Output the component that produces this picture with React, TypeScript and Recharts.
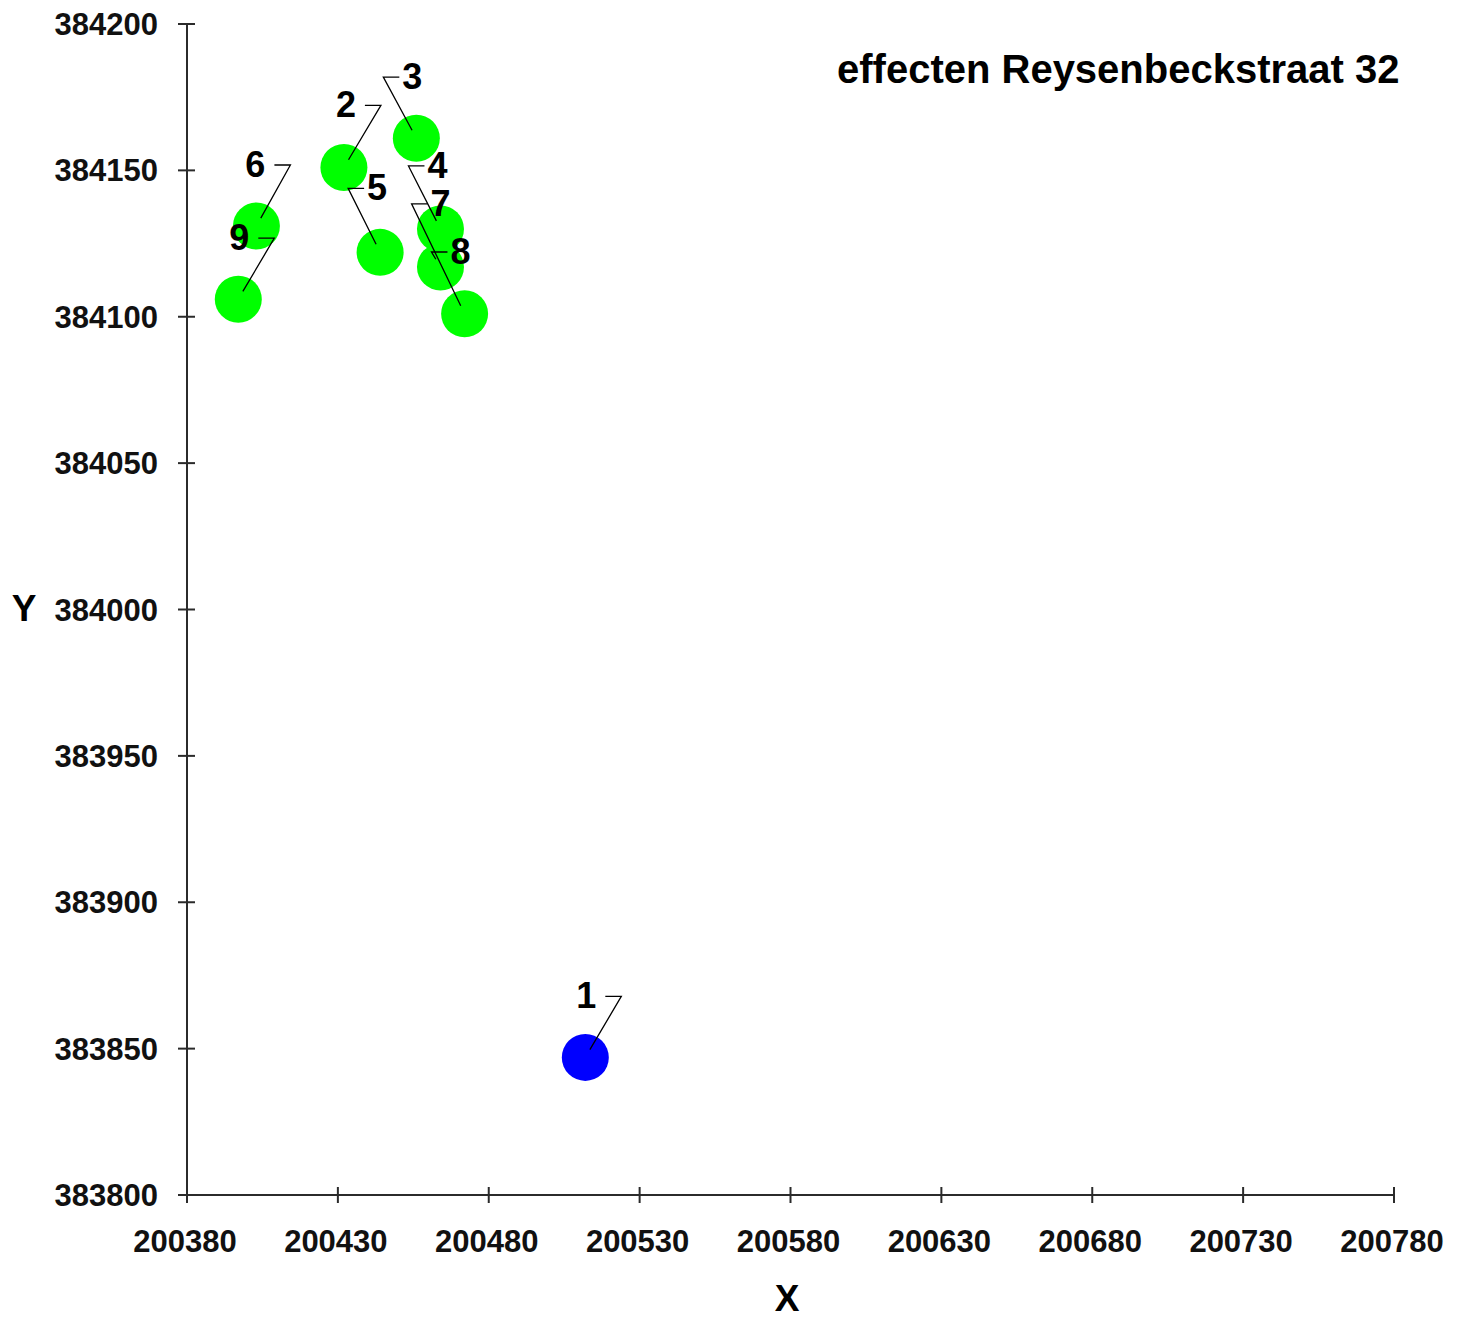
import React from 'react';
import { ScatterChart, Scatter, XAxis, YAxis } from 'recharts';

// receptor points (RD coordinates)
const pointIds = [1, 2, 3, 4, 5, 6, 7, 8, 9];
const xCoords = [200512, 200432, 200456, 200464, 200444, 200403, 200472, 200464, 200397];
const yCoords = [383847, 384151, 384161, 384130, 384122, 384131, 384101, 384117, 384106];
const sourceIds = [1];

const xTicks = [200380, 200430, 200480, 200530, 200580, 200630, 200680, 200730, 200780];
const yTicks = [383800, 383850, 383900, 383950, 384000, 384050, 384100, 384150, 384200];

const title = 'effecten Reysenbeckstraat 32';

// label placement: corner of leader line relative to the point (px), and side of the text
const labelLayout: Record<number, { dx: number; dy: number; side: 'left' | 'right' }> = {
  1: { dx: 36, dy: -61, side: 'left' },
  2: { dx: 37, dy: -62, side: 'left' },
  3: { dx: -33, dy: -61, side: 'right' },
  4: { dx: -32, dy: -63, side: 'right' },
  5: { dx: -32, dy: -64, side: 'right' },
  6: { dx: 34, dy: -61, side: 'left' },
  7: { dx: -53, dy: -110, side: 'right' },
  8: { dx: -9, dy: -15, side: 'right' },
  9: { dx: 36, dy: -61, side: 'left' },
};

const rows = pointIds.map((id, i) => ({ id, x: xCoords[i], y: yCoords[i] }));
const sourceRows = rows.filter((r) => sourceIds.includes(r.id));
const receptorRows = rows.filter((r) => !sourceIds.includes(r.id));

const FONT = '"Liberation Sans", Arial, sans-serif';
const AXIS = '#2b2b2b';

// plot area: x 187..1394, y 24..1195
const XTick = (props: any) => {
  const cx = props.payload.coordinate;
  const y = 1195;
  return (
    <g>
      <line x1={cx} x2={cx} y1={y - 8} y2={y + 8} stroke={AXIS} strokeWidth={2} />
      <text x={cx - 2} y={y + 57} textAnchor="middle" fontFamily={FONT} fontWeight="bold" fontSize={31} fill="#111">
        {props.payload.value}
      </text>
    </g>
  );
};

const YTick = (props: any) => {
  const cy = props.payload.coordinate;
  const x = 187;
  return (
    <g>
      <line x1={x - 9} x2={x + 8} y1={cy} y2={cy} stroke={AXIS} strokeWidth={2} />
      <text x={x - 29} y={cy + 11} textAnchor="end" fontFamily={FONT} fontWeight="bold" fontSize={31} fill="#111">
        {props.payload.value}
      </text>
    </g>
  );
};

const dot = (color: string) => (props: any) => <circle cx={props.cx} cy={props.cy} r={23.5} fill={color} />;

const LabelShape = (props: any) => {
  const { cx, cy, payload } = props;
  const lay = labelLayout[payload.id];
  const kx = cx + lay.dx;
  const ky = cy + lay.dy;
  const len = Math.hypot(lay.dx, lay.dy);
  const ex = cx + (lay.dx / len) * 9;
  const ey = cy + (lay.dy / len) * 9;
  const tickEnd = lay.side === 'left' ? kx - 16 : kx + 16;
  const tx = lay.side === 'left' ? tickEnd - 9 : tickEnd + 3;
  return (
    <g>
      <polyline points={`${ex},${ey} ${kx},${ky} ${tickEnd},${ky}`} fill="none" stroke="#000" strokeWidth={1.3} />
      <text
        x={tx}
        y={ky + 12}
        textAnchor={lay.side === 'left' ? 'end' : 'start'}
        fontFamily={FONT}
        fontWeight="bold"
        fontSize={36}
        fill="#000"
      >
        {payload.id}
      </text>
    </g>
  );
};

export default function App() {
  return (
    <div style={{ position: 'absolute', left: 0, top: 0, width: 1468, height: 1321, background: '#fff' }}>
      <ScatterChart width={1468} height={1321} margin={{ top: 24, right: 74, bottom: 96, left: 157 }}>
        <XAxis
          type="number"
          dataKey="x"
          domain={[200380, 200780]}
          ticks={xTicks}
          allowDataOverflow
          height={30}
          tickSize={0}
          tickMargin={0}
          tickLine={false}
          axisLine={{ stroke: AXIS, strokeWidth: 2 }}
          tick={<XTick />}
          interval={0}
        />
        <YAxis
          type="number"
          dataKey="y"
          domain={[383800, 384200]}
          ticks={yTicks}
          allowDataOverflow
          width={30}
          tickSize={0}
          tickMargin={0}
          tickLine={false}
          axisLine={{ stroke: AXIS, strokeWidth: 2 }}
          tick={<YTick />}
          interval={0}
        />
        <Scatter data={receptorRows} shape={dot('#00ff00')} isAnimationActive={false} />
        <Scatter data={sourceRows} shape={dot('#0000ff')} isAnimationActive={false} />
        <Scatter data={rows} shape={LabelShape} isAnimationActive={false} />
      </ScatterChart>
      <svg width={1468} height={1321} style={{ position: 'absolute', left: 0, top: 0, pointerEvents: 'none' }}>
        <text x={837} y={83} fontFamily={FONT} fontWeight="bold" fontSize={40} fill="#000">
          {title}
        </text>
        <text x={24} y={621} textAnchor="middle" fontFamily={FONT} fontWeight="bold" fontSize={37} fill="#000">
          Y
        </text>
        <text x={787} y={1311} textAnchor="middle" fontFamily={FONT} fontWeight="bold" fontSize={37} fill="#000">
          X
        </text>
      </svg>
    </div>
  );
}
